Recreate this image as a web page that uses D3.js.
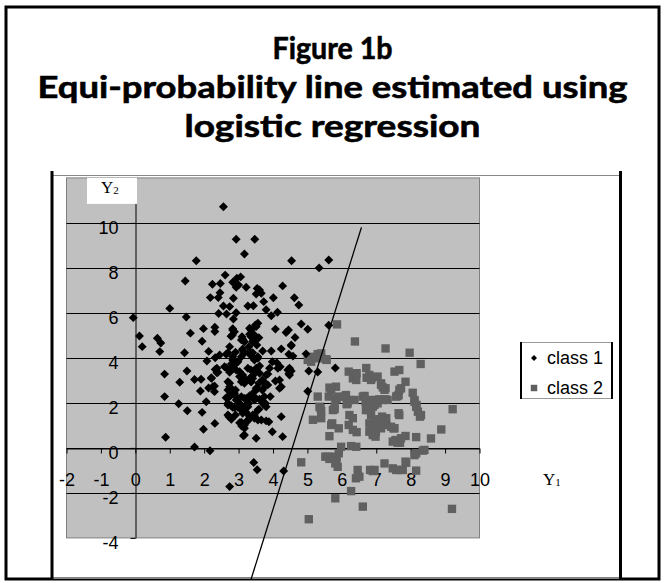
<!DOCTYPE html>
<html>
<head>
<meta charset="utf-8">
<script src="https://cdn.jsdelivr.net/npm/d3@7"></script>
<style>
  body { margin: 0; background: #fff; }
  svg { display: block; }
</style>
</head>
<body>
<div id="chart"></div>
<script>
// chart values
const titleLines = ["Figure 1b", "Equi-probability line estimated using", "logistic regression"];
const xTicks = [-2, -1, 0, 1, 2, 3, 4, 5, 6, 7, 8, 9, 10];
const yTicks = [-4, -2, 0, 2, 4, 6, 8, 10];
const legendLabels = ["class 1", "class 2"];
// equi-probability line, two end points [Y1, Y2]
const lineEnds = [[3.36, -5.85], [6.57, 9.8]];

const class1 = [
  [2.56,10.72],[2.93,9.27],[3.47,9.27],[3.17,8.62],[1.77,8.32],[4.54,8.32],[5.34,8.0],[5.62,8.35],
  [1.45,7.42],[2.61,7.68],[2.24,7.27],[2.47,7.31],[2.83,7.36],[2.95,7.54],[3.06,7.6],[3.0,7.24],
  [2.93,7.14],[3.22,7.14],[4.28,7.2],[3.54,7.09],[3.61,7.02],[3.51,6.84],[3.66,6.87],
  [2.46,6.9],[2.18,6.68],[2.85,6.65],[2.41,6.68],[3.73,6.5],[4.01,6.67],[4.62,6.67],[4.75,6.35],
  [1.0,6.2],[2.56,6.31],[2.74,6.28],[3.27,6.31],[3.43,6.32],[3.8,6.14],[4.13,6.03],[3.95,5.87],
  [-0.06,5.79],[1.48,5.82],[2.42,5.97],[2.65,5.95],[2.93,6.01],[2.85,5.73],
  [0.12,4.97],[0.64,4.87],[0.74,4.66],[0.2,4.5],[0.71,4.28],[1.43,4.23],[1.6,5.1],[1.98,5.3],
  [1.94,4.74],[2.31,5.36],[2.31,5.17],[2.13,4.29],[2.08,3.86],[2.32,4.01],
  [2.83,5.3],[2.88,5.16],[2.78,4.96],[3.12,4.83],[3.32,5.32],[3.49,5.46],[3.36,5.02],[3.49,4.87],
  [3.56,5.54],[3.59,4.9],[3.43,4.8],[3.41,4.72],[3.53,4.57],
  [4.07,5.28],[4.38,5.13],[4.45,5.24],[4.64,4.91],[4.53,4.57],[4.82,5.51],[5.01,5.27],[5.62,5.45],
  [4.24,4.4],[4.46,4.16],[4.96,4.18],[3.98,3.83],[4.21,3.61],[4.14,3.54],[4.11,3.79],
  [3.7,4.31],[3.56,4.05],[3.43,3.98],[3.95,4.31],[4.53,4.54],[4.58,4.08],[4.48,3.54],[4.46,3.3],
  [4.43,3.46],[4.53,3.42],[4.48,3.24],[5.04,3.42],[5.3,3.37],[5.81,3.55],[5.01,2.52],
  [3.61,3.64],[3.49,3.46],[3.36,3.46],[3.51,3.54],[3.61,3.32],[3.8,3.24],[3.41,3.09],[3.36,2.94],
  [3.69,3.02],[3.75,2.92],[3.85,2.8],[3.9,3.54],[3.85,3.28],[4.07,2.97],[4.19,3.02],[4.24,2.72],
  [4.19,2.65],[3.51,2.65],[3.59,2.87],[3.69,2.57],[3.78,2.75],
  [3.41,4.23],[3.46,3.91],[3.56,3.98],[3.3,4.5],[3.51,5.39],[3.36,5.24],[3.32,5.05],[3.46,5.02],[3.53,4.83],
  [2.83,5.24],[2.82,5.02],[3.08,4.8],[3.11,4.35],[3.15,4.2],[3.32,4.28],[2.74,4.5],[2.69,4.23],
  [2.83,4.05],[2.88,3.83],[2.98,3.83],[3.08,4.05],[2.45,4.13],[2.64,4.16],[2.59,3.61],[2.83,3.61],
  [2.79,3.73],[2.93,3.46],[2.32,3.49],[2.37,3.34],[2.21,3.09],[2.25,2.72],[2.3,2.5],
  [2.91,4.25],[3.12,4.4],[3.17,4.72],[3.1,4.94],[3.36,4.94],[3.46,4.8],[3.32,4.16],
  [2.83,3.91],[2.93,3.76],[2.85,3.54],[2.64,3.56],[2.74,3.36],[3.03,3.39],[3.12,3.24],[3.17,3.02],
  [3.32,3.09],[3.41,3.21],[3.51,3.39],[3.54,3.54],[3.27,3.54],
  [3.03,3.17],[3.12,3.05],[3.22,3.02],[3.37,2.94],[3.08,2.94],[3.17,2.87],
  [2.74,2.87],[2.69,2.57],[2.83,2.54],[2.88,2.43],[2.74,2.28],[2.93,2.13],[3.03,1.98],[3.17,2.2],
  [3.32,2.28],[3.27,1.83],[2.69,1.91],[2.83,1.8],[2.98,1.8],[3.08,1.68],
  [2.69,2.94],[2.74,2.72],[2.91,2.57],[2.74,2.35],[2.64,2.23],[2.93,2.28],[3.08,2.28],[3.22,2.2],
  [3.32,2.32],[3.46,2.5],[3.56,2.65],
  [2.69,1.98],[2.79,1.87],[2.88,1.79],[2.98,1.83],[3.08,1.76],[3.22,1.91],[3.3,1.98],[3.22,1.58],
  [3.12,1.54],[2.91,1.46],[2.74,1.39],[2.69,1.46],[3.27,1.24],[3.17,1.02],[3.08,1.14],[3.17,0.57],
  [3.51,0.43],[3.46,1.46],[3.56,1.68],
  [3.46,2.13],[3.61,2.16],[3.75,2.28],[3.78,1.98],[3.59,1.72],[3.75,1.91],[3.92,2.28],[4.24,1.39],
  [3.36,2.28],[3.51,2.2],[3.66,2.13],[3.7,1.98],[3.8,1.83],
  [3.41,1.46],[3.56,1.24],[3.66,1.24],[3.8,1.2],[3.88,1.16],[3.46,1.32],[3.98,0.72],[4.28,0.5],
  [0.85,3.28],[1.5,3.42],[1.29,2.92],[1.72,3.04],[1.91,3.05],[0.85,2.28],[1.26,1.96],[1.51,1.65],
  [1.94,1.58],[2.06,2.05],[1.89,2.53],[2.13,2.66],[2.21,3.12],[2.3,2.75],[2.37,3.54],[2.4,3.36],
  [0.88,0.47],[1.98,0.83],[2.31,1.09],[1.72,0.04],[2.17,-0.13],[2.72,1.39],[2.79,1.27],[3.03,1.12],
  [3.09,0.97],[3.17,0.87],[3.27,1.21],[3.32,1.39],[3.14,0.54],
  [3.44,-0.65],[3.54,-0.97],[2.74,-1.72],[4.31,-1.03]
];

const class2 = [
  [5.86,5.49],[6.38,4.73],[7.27,4.42],[7.97,4.23],[8.29,3.73],
  [5.01,3.91],[5.16,3.98],[5.3,4.17],[5.4,4.2],[5.54,3.94],[5.11,3.83],[5.2,4.05],[5.4,3.98],[5.56,3.91],
  [6.2,3.39],[6.39,3.27],[6.32,3.09],[6.42,3.02],[6.43,3.32],[6.71,3.55],[6.72,3.12],[6.88,3.12],
  [7.04,3.17],[6.8,3.14],[7.14,2.87],[7.27,2.65],[7.53,3.39],[7.67,3.46],[7.85,2.94],[7.67,2.58],
  [7.62,2.31],[6.8,3.24],[6.85,3.02],[7.14,2.8],[7.24,2.58],[7.19,2.69],[7.72,2.65],[7.65,2.35],[7.58,2.28],
  [5.64,2.68],[5.83,2.72],[5.69,2.57],
  [5.3,2.28],[5.81,2.2],[5.91,2.28],[6.12,2.35],[6.22,2.13],[6.14,1.94],[6.37,2.13],[6.61,2.28],
  [6.69,2.05],[6.82,2.08],[6.78,1.83],[6.95,1.91],[7.04,1.98],[5.62,2.28],[5.85,2.16],[6.08,2.28],
  [6.17,1.98],[6.66,2.31],[6.8,2.13],[6.99,2.13],[7.18,2.13],[7.27,2.16],[7.09,2.16],[7.33,2.13],
  [6.9,1.83],[6.8,1.68],
  [8.06,2.45],[8.11,2.13],[8.16,1.83],[8.21,1.61],[8.27,1.39],[8.3,1.46],[8.11,2.05],[8.17,1.91],
  [9.22,1.72],[7.67,1.46],[7.65,1.54],
  [5.35,1.83],[5.4,1.64],[5.74,1.68],[5.79,1.83],[5.38,1.76],[5.79,1.72],[5.4,1.32],[5.16,1.25],
  [6.22,1.46],[6.32,1.32],[6.7,1.68],[6.85,1.46],[6.98,1.27],[7.09,1.27],[7.17,1.39],[7.29,1.32],
  [5.72,1.09],[5.91,0.87],[6.2,1.02],[6.32,0.8],[6.43,0.7],[6.8,1.09],[6.85,0.87],[6.9,0.57],
  [6.99,0.72],[7.04,1.02],[5.64,0.52],[5.69,1.02],
  [6.95,1.16],[7.09,1.06],[7.24,1.21],[7.29,1.02],[7.43,0.94],[7.5,0.87],[6.9,0.87],[6.95,0.94],
  [7.14,0.87],[6.8,0.72],[7.53,0.87],
  [6.9,0.65],[6.98,0.5],[7.56,0.35],[7.69,0.23],[7.72,0.43],[7.85,0.53],[8.16,0.48],[8.59,0.42],
  [8.89,0.82],[7.48,0.28],[7.62,0.23],
  [5.98,0.05],[6.42,0.05],[6.27,0.08],
  [8.16,-0.24],[8.35,-0.12],[8.11,-0.32],[8.4,-0.09],
  [5.52,-0.39],[5.64,-0.49],[5.81,-0.69],[5.88,-0.84],[5.91,-0.24],[5.85,-0.46],[5.59,-0.39],
  [5.74,-0.46],[5.83,-0.61],[5.78,-0.39],[4.82,-0.64],
  [6.46,-0.98],[6.51,-1.28],[6.41,-1.35],[6.82,-0.98],[6.9,-1.03],[7.24,-0.69],[7.48,-0.91],
  [7.58,-0.98],[7.77,-0.98],[7.87,-0.66],[8.16,-1.01],[6.95,-0.98],[7.67,-0.98],[7.85,-0.61],
  [6.27,-1.92],[5.81,-2.24],[6.61,-2.61],[5.04,-3.17],[9.2,-2.71]
];

const width = 665, height = 583;
const plot = {left: 66.5, right: 479.5, top: 177.9, bottom: 537.9};

const svg = d3.select("#chart")
  .append("svg")
    .attr("width", width)
    .attr("height", height);

// outer frame of the figure
svg.append("rect")
  .attr("x", 6).attr("y", 7)
  .attr("width", 653).attr("height", 572)
  .attr("fill", "none")
  .attr("stroke", "#000")
  .attr("stroke-width", 3);

// title
const titleY = [59, 98, 137];
const titleW = [120, 590, 296];
titleLines.forEach((t, i) => {
  svg.append("text")
    .attr("x", width / 2)
    .attr("y", titleY[i])
    .attr("text-anchor", "middle")
    .attr("font-family", "Lato, 'Open Sans', sans-serif")
    .attr("font-weight", "bold")
    .attr("font-size", 31)
    .attr("textLength", titleW[i])
    .attr("lengthAdjust", "spacingAndGlyphs")
    .attr("fill", "#000")
    .attr("stroke", "#000")
    .attr("stroke-width", 0.6)
    .text(t);
});

// chart area box: grey top and bottom, heavy sides
svg.append("line").attr("x1", 52).attr("x2", 621).attr("y1", 175.5).attr("y2", 175.5)
  .attr("stroke", "#888").attr("stroke-width", 1);
svg.append("line").attr("x1", 52).attr("x2", 621).attr("y1", 578.5).attr("y2", 578.5)
  .attr("stroke", "#888").attr("stroke-width", 1);
[52, 620.5].forEach(x => {
  svg.append("line").attr("x1", x).attr("x2", x).attr("y1", 171).attr("y2", 579)
    .attr("stroke", "#000").attr("stroke-width", 3);
});

const xScale = d3.scaleLinear().domain([-2, 10]).range([plot.left, plot.right]);
const yScale = d3.scaleLinear().domain([-4, 12]).range([plot.bottom, plot.top]);

// plot area
svg.append("rect")
  .attr("x", plot.left).attr("y", plot.top)
  .attr("width", plot.right - plot.left)
  .attr("height", plot.bottom - plot.top)
  .attr("fill", "#c0c0c0")
  .attr("stroke", "#808080")
  .attr("stroke-width", 1);

// horizontal gridlines
svg.selectAll(".grid")
  .data(yTicks.filter(v => v > -4))
  .enter().append("line")
  .attr("class", "grid")
  .attr("x1", plot.left).attr("x2", plot.right)
  .attr("y1", d => Math.round(yScale(d)) + 0.5)
  .attr("y2", d => Math.round(yScale(d)) + 0.5)
  .attr("stroke", "#000")
  .attr("stroke-width", 1);

// plain hyphen for negative numbers, as in the figure
const plainNum = d => String(d);

// x axis through y = 0
const xAxis = svg.append("g")
  .attr("transform", `translate(0,${Math.round(yScale(0)) + 0.5})`)
  .call(d3.axisBottom(xScale).tickValues(xTicks).tickFormat(plainNum).tickSize(5).tickSizeOuter(0));
xAxis.select(".domain").attr("stroke", "#000");
xAxis.selectAll("line").attr("stroke", "#000");
xAxis.selectAll("text")
  .attr("y", 31)
  .attr("dy", "0.35em")
  .attr("font-family", "'Liberation Sans', Arial, sans-serif")
  .attr("font-size", 18)
  .attr("fill", "#000");

// y axis through x = 0
const yAxis = svg.append("g")
  .attr("transform", `translate(${Math.round(xScale(0)) + 0.5},0)`)
  .call(d3.axisLeft(yScale).tickValues(yTicks).tickFormat(plainNum).tickSize(5).tickPadding(12).tickSizeOuter(0));
yAxis.select(".domain").attr("stroke", "#000");
yAxis.selectAll("line").attr("stroke", "#000");
yAxis.selectAll("text")
  .attr("dy", "0.35em")
  .attr("y", 4)
  .attr("font-family", "'Liberation Sans', Arial, sans-serif")
  .attr("font-size", 18)
  .attr("fill", "#000");

// axis titles
svg.append("rect")
  .attr("x", 87).attr("y", plot.top)
  .attr("width", 50).attr("height", 26)
  .attr("fill", "#fff");

function axisTitle(x, y, sub) {
  const t = svg.append("text")
    .attr("x", x).attr("y", y)
    .attr("font-family", "'Liberation Serif', 'Times New Roman', serif")
    .attr("font-size", 17)
    .attr("fill", "#000");
  t.append("tspan").text("Y");
  t.append("tspan").attr("font-size", 11).attr("dy", 1).text(sub);
}
axisTitle(101, 193, "2");
axisTitle(543, 485, "1");

// points
const diamond = d3.symbol().type(d3.symbolSquare).size(40);
const square = d3.symbol().type(d3.symbolSquare).size(70);

svg.selectAll(".c2")
  .data(class2)
  .enter().append("path")
  .attr("class", "c2")
  .attr("d", square)
  .attr("transform", d => `translate(${xScale(d[0])},${yScale(d[1])})`)
  .attr("fill", "#606060");

svg.selectAll(".c1")
  .data(class1)
  .enter().append("path")
  .attr("class", "c1")
  .attr("d", diamond)
  .attr("transform", d => `translate(${xScale(d[0])},${yScale(d[1])}) rotate(45)`)
  .attr("fill", "#000");

// equi-probability line
svg.append("path")
  .datum(lineEnds)
  .attr("fill", "none")
  .attr("stroke", "#000")
  .attr("stroke-width", 1.3)
  .attr("d", d3.line().x(d => xScale(d[0])).y(d => yScale(d[1])));

// legend
const legend = svg.append("g").attr("transform", "translate(521,342)");
legend.append("line").attr("x1", 0).attr("x2", 91).attr("y1", 0.5).attr("y2", 0.5)
  .attr("stroke", "#999");
legend.append("line").attr("x1", 0).attr("x2", 91).attr("y1", 56.5).attr("y2", 56.5)
  .attr("stroke", "#999");
[0, 91].forEach(x => {
  legend.append("line").attr("x1", x).attr("x2", x).attr("y1", 0).attr("y2", 57)
    .attr("stroke", "#000").attr("stroke-width", 2);
});

legendLabels.forEach((label, i) => {
  const g = legend.append("g").attr("transform", `translate(0,${16 + i * 30})`);
  g.append("path")
    .attr("d", i === 0 ? d3.symbol().type(d3.symbolSquare).size(18)() : d3.symbol().type(d3.symbolSquare).size(42)())
    .attr("transform", i === 0 ? "translate(13,0) rotate(45)" : "translate(13,0)")
    .attr("fill", i === 0 ? "#000" : "#606060");
  g.append("text")
    .attr("x", 26)
    .attr("y", 0)
    .attr("dy", "0.35em")
    .attr("font-family", "'Liberation Sans', Arial, sans-serif")
    .attr("font-size", 18)
    .attr("fill", "#000")
    .text(label);
});
</script>
</body>
</html>
